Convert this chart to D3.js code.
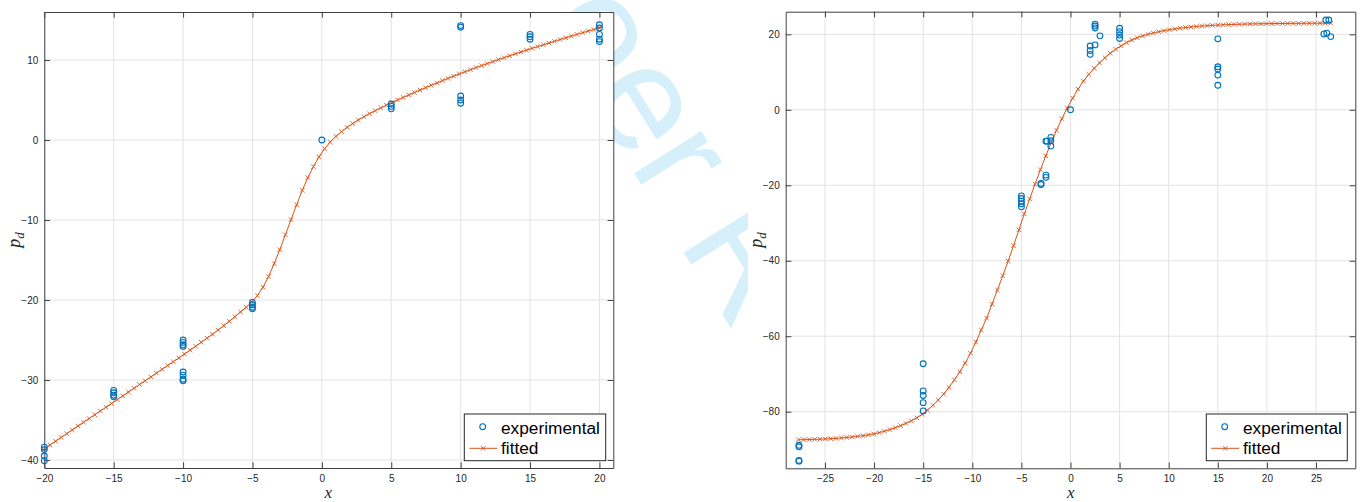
<!DOCTYPE html>
<html><head><meta charset="utf-8">
<script src="https://cdn.jsdelivr.net/npm/d3@7"></script>
<style>
html,body{margin:0;padding:0;background:#fff;}
svg{display:block;}
</style></head>
<body>
<svg id="chart" width="1363" height="502"></svg>
<script>
// ---------- DATA ----------
// Left panel
const leftXTicks = [-20, -15, -10, -5, 0, 5, 10, 15, 20];
const leftYTicks = [-40, -30, -20, -10, 0, 10];
const leftExpX = [-20,-20,-20,-20, -15,-15,-15,-15, -10,-10,-10,-10,-10,-10,-10,-10, -5,-5,-5,-5, 0, 5,5,5, 10,10,10,10,10, 15,15,15, 20,20,20,20,20];
const leftExpY = [-38.4,-38.7,-39.5,-40.1, -31.3,-31.6,-31.9,-32.1, -25.0,-25.3,-25.6,-25.8,-29.0,-29.4,-29.9,-30.1, -20.3,-20.6,-20.9,-21.1, 0, 4.5,4.2,3.9, 14.3,14.1,5.5,5.0,4.6, 13.2,12.9,12.6, 14.4,14.0,13.2,12.6,12.3];
const leftFitY = [
 -38.60,-38.13,-37.65,-37.18,-36.71,-36.24,-35.76,-35.29,-34.82,-34.35,
 -33.87,-33.40,-32.93,-32.45,-31.98,-31.51,-31.04,-30.56,-30.09,-29.62,
 -29.14,-28.67,-28.19,-27.72,-27.24,-26.76,-26.27,-25.78,-25.28,-24.78,
 -24.27,-23.75,-23.21,-22.66,-22.09,-21.49,-20.92,-20.25,-19.45,-18.40,
 -17.05,-15.45,-13.70,-11.85,-9.95,-8.10,-6.30,-4.70,-3.32,-2.10,
 -1.08,-0.25,0.45,1.05,1.58,2.06,2.50,2.91,3.29,3.66,
 4.01,4.35,4.68,5.00,5.32,5.63,5.94,6.24,6.54,6.84,
 7.13,7.42,7.70,7.98,8.26,8.53,8.79,9.05,9.30,9.55,
 9.80,10.05,10.29,10.53,10.77,11.00,11.23,11.46,11.68,11.90,
 12.12,12.34,12.56,12.78,12.99,13.20,13.41,13.61,13.81,14.00];
const leftFitX = d3.range(leftFitY.length).map(i => -20 + i * 40 / (leftFitY.length - 1));

// Right panel
const rightXTicks = [-25, -20, -15, -10, -5, 0, 5, 10, 15, 20, 25];
const rightYTicks = [-80, -60, -40, -20, 0, 20];
const rightExpX = [-27.65,-27.65,-27.65,-27.65, -15,-15,-15,-15,-15, -5,-5,-5,-5,-5, -3.0,-3.0, -2.5,-2.5,-2.5,-2.4, -2.0,-2.0,-2.0, 0, 2.0,2.0,2.0, 2.5,2.5,2.5,2.5, 3.0, 5,5,5,5, 15,15,15,15,15, 26.0,26.3,25.8,26.1,26.5];
const rightExpY = [-88.9,-89.3,-92.9,-93.1, -67.3,-74.5,-75.7,-77.6,-79.8, -22.8,-23.5,-24.2,-24.9,-25.7, -19.5,-19.8, -17.3,-17.9,-8.3,-8.3, -7.3,-8.2,-9.6, 0, 16.9,15.7,14.7, 17.2,22.7,22.2,21.7, 19.6, 21.6,20.7,19.8,18.9, 18.8,11.4,10.8,9.2,6.5, 23.8,23.8,20.1,20.3,19.4];
const rightFitY = [
 -87.45,-87.41,-87.37,-87.33,-87.28,-87.22,-87.15,-87.07,-86.95,-86.83,
 -86.69,-86.53,-86.35,-86.13,-85.87,-85.55,-85.17,-84.73,-84.24,-83.69,
 -83.10,-82.42,-81.62,-80.70,-79.60,-78.32,-76.90,-75.35,-73.55,-71.55,
 -69.45,-67.15,-64.50,-61.55,-58.35,-55.20,-51.50,-47.75,-43.95,-40.10,
 -36.00,-31.80,-27.60,-23.60,-19.70,-15.90,-12.20,-8.70,-5.40,-2.35,
 0.50,3.10,5.50,7.60,9.40,11.00,12.45,13.80,15.00,16.05,
 16.95,17.80,18.50,19.10,19.58,20.00,20.36,20.69,20.97,21.22,
 21.44,21.64,21.80,21.95,22.08,22.19,22.29,22.38,22.46,22.52,
 22.58,22.63,22.68,22.72,22.75,22.78,22.81,22.83,22.85,22.87,
 22.88,22.90,22.91,22.92,22.93,22.94,22.94,22.95,22.95,22.96];
const rightFitX = d3.range(rightFitY.length).map(i => -27.7 + i * 54.2 / (rightFitY.length - 1));

const legendLabels = ["experimental", "fitted"];

// ---------- DRAW ----------
const svg = d3.select("#chart");
const blue = "#0072BD", orange = "#D95319";
const axisColor = "#404040", textColor = "#262626", gridColor = "#e3e3e3";

// watermark
svg.append("text")
  .attr("transform", "translate(346,-288) rotate(58)")
  .attr("font-family", "Liberation Sans, Arial, sans-serif")
  .attr("font-size", 150)
  .attr("fill", "#d5effb")
  .text("For Peer Review");

function panel(cfg) {
  const g = svg.append("g");
  if (cfg.bg) g.append("rect").attr("x", cfg.bg[0]).attr("y", cfg.bg[1]).attr("width", cfg.bg[2]).attr("height", cfg.bg[3]).attr("fill", "#fff");
  const x = d3.scaleLinear().domain(cfg.xDomain).range(cfg.xRange);
  const y = d3.scaleLinear().domain(cfg.yDomain).range(cfg.yRange);
  const [x0, x1] = cfg.xRange, [y0, y1] = cfg.yRange; // y0 bottom, y1 top
  g.append("rect").attr("x", x0).attr("y", y1).attr("width", x1 - x0).attr("height", y0 - y1).attr("fill", "#fff");
  // grid
  g.append("g").selectAll("line").data(cfg.xTicks).join("line")
    .attr("x1", d => x(d)).attr("x2", d => x(d)).attr("y1", y1).attr("y2", y0)
    .attr("stroke", gridColor).attr("stroke-width", 1);
  g.append("g").selectAll("line").data(cfg.yTicks).join("line")
    .attr("y1", d => y(d)).attr("y2", d => y(d)).attr("x1", x0).attr("x2", x1)
    .attr("stroke", gridColor).attr("stroke-width", 1);
  const tl = 5.7;
  const styleAxis = (sel, labels) => {
    sel.select(".domain").attr("stroke", axisColor).attr("stroke-width", 1);
    sel.selectAll(".tick line").attr("stroke", axisColor).attr("stroke-width", 1);
    sel.selectAll(".tick text").attr("fill", textColor).attr("font-size", 10)
      .attr("font-family", "Liberation Sans, Arial, Helvetica, sans-serif");
    if (!labels) sel.selectAll(".tick text").remove();
  };
  g.append("g").attr("transform", `translate(0,${y0})`)
    .call(d3.axisBottom(x).tickValues(cfg.xTicks).tickFormat(d3.format("d")).tickSize(-tl).tickSizeOuter(0).tickPadding(7))
    .call(s => styleAxis(s, true));
  g.append("g").attr("transform", `translate(0,${y1})`)
    .call(d3.axisTop(x).tickValues(cfg.xTicks).tickSize(-tl).tickSizeOuter(0))
    .call(s => styleAxis(s, false));
  g.append("g").attr("transform", `translate(${x0},0)`)
    .call(d3.axisLeft(y).tickValues(cfg.yTicks).tickFormat(d3.format("d")).tickSize(-tl).tickSizeOuter(0).tickPadding(6))
    .call(s => styleAxis(s, true));
  g.append("g").attr("transform", `translate(${x1},0)`)
    .call(d3.axisRight(y).tickValues(cfg.yTicks).tickSize(-tl).tickSizeOuter(0))
    .call(s => styleAxis(s, false));
  g.selectAll(".domain").attr("fill", "none");

  // fitted line
  const fit = cfg.fitX.map((v, i) => [v, cfg.fitY[i]]);
  g.append("path").datum(fit)
    .attr("d", d3.line().x(d => x(d[0])).y(d => y(d[1])))
    .attr("fill", "none").attr("stroke", orange).attr("stroke-width", 1);
  const cs = 2.2;
  g.append("g").selectAll("path").data(fit).join("path")
    .attr("d", d => { const px = x(d[0]), py = y(d[1]);
      return `M${px-cs},${py-cs}L${px+cs},${py+cs}M${px-cs},${py+cs}L${px+cs},${py-cs}`; })
    .attr("stroke", orange).attr("stroke-width", 0.9).attr("fill", "none");
  // experimental
  g.append("g").selectAll("circle").data(cfg.expX.map((v, i) => [v, cfg.expY[i]])).join("circle")
    .attr("cx", d => x(d[0])).attr("cy", d => y(d[1])).attr("r", 2.9)
    .attr("fill", "none").attr("stroke", blue).attr("stroke-width", 1.1);

  // legend
  const [lx, ly, lw, lh] = cfg.legend;
  const lg = g.append("g");
  lg.append("rect").attr("x", lx).attr("y", ly).attr("width", lw).attr("height", lh)
    .attr("fill", "#fff").attr("stroke", textColor).attr("stroke-width", 1);
  lg.append("circle").attr("cx", lx + 18.4).attr("cy", ly + 12.7).attr("r", 2.9)
    .attr("fill", "none").attr("stroke", blue).attr("stroke-width", 1.1);
  lg.append("line").attr("x1", lx + 5).attr("x2", lx + 33).attr("y1", ly + 34.3).attr("y2", ly + 34.3)
    .attr("stroke", orange).attr("stroke-width", 1);
  lg.append("path").attr("d", `M${lx+19-cs},${ly+34.3-cs}L${lx+19+cs},${ly+34.3+cs}M${lx+19-cs},${ly+34.3+cs}L${lx+19+cs},${ly+34.3-cs}`)
    .attr("stroke", orange).attr("stroke-width", 0.9);
  lg.selectAll("text").data(legendLabels).join("text")
    .attr("x", lx + 36.7).attr("y", (d, i) => ly + 19.5 + i * 20.7)
    .attr("font-family", "Liberation Sans, Arial, Helvetica, sans-serif")
    .attr("font-size", 17.3).attr("fill", "#000").text(d => d);

  // axis labels
  g.append("text").attr("x", (x0 + x1) / 2 + cfg.xLabelDx).attr("y", 498)
    .attr("text-anchor", "middle").attr("font-family", "Liberation Serif, Times New Roman, serif")
    .attr("font-style", "italic").attr("font-size", 17).attr("fill", textColor).text("x");
  const yl = g.append("text").attr("transform", `translate(${cfg.yLabelX},${(y0 + y1) / 2}) rotate(-90)`)
    .attr("text-anchor", "middle").attr("font-family", "Liberation Serif, Times New Roman, serif")
    .attr("font-style", "italic").attr("font-size", 18).attr("fill", textColor);
  yl.append("tspan").text("p");
  yl.append("tspan").attr("font-size", 13).attr("dy", 4).text("d");
}

panel({
  xDomain: [-20, 21], xRange: [44.3, 613.3],
  yDomain: [-41, 16], yRange: [468, 12],
  xTicks: leftXTicks, yTicks: leftYTicks,
  expX: leftExpX, expY: leftExpY, fitX: leftFitX, fitY: leftFitY,
  legend: [464.3, 414, 141.4, 46.7], xLabelDx: -0.5, yLabelX: 20
});
panel({
  bg: [748, 0, 615, 502],
  xDomain: [-29, 29], xRange: [785.7, 1355.3],
  yDomain: [-95, 26], yRange: [468.3, 11.7],
  xTicks: rightXTicks, yTicks: rightYTicks,
  expX: rightExpX, expY: rightExpY, fitX: rightFitX, fitY: rightFitY,
  legend: [1206.3, 414, 141, 46.7], xLabelDx: 0.2, yLabelX: 762
});
</script>
</body></html>
